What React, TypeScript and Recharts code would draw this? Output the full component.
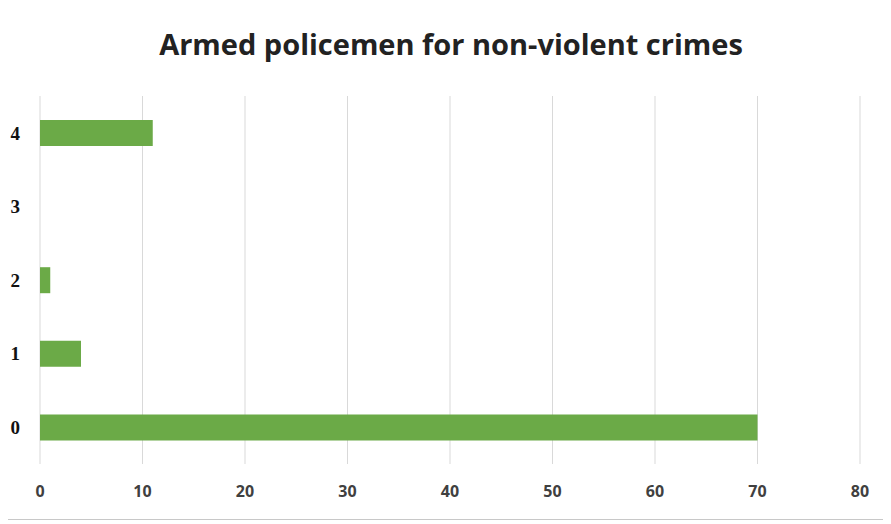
import { Bar, BarChart, CartesianGrid, XAxis, YAxis } from "recharts";

const categories = ["0", "1", "2", "3", "4"];
const counts = [70, 4, 1, 0, 11];
const xTicks = [0, 10, 20, 30, 40, 50, 60, 70, 80];

const data = categories.map((name, i) => ({ name, count: counts[i] }));

const App = () => {
  return (
    <div
      style={{
        position: "relative",
        width: 877,
        height: 515,
        border: "1px solid #c8c8c8",
        marginTop: -5,
        marginLeft: -1,
        background: "#fff",
      }}
    >
      <div
        style={{
          position: "absolute",
          top: 20,
          left: 0,
          width: 886,
          textAlign: "center",
          fontFamily: "'Open Sans', sans-serif",
          fontWeight: 700,
          fontSize: 29,
          color: "#222",
        }}
      >
        Armed policemen for non-violent crimes
      </div>
      <BarChart
        width={877}
        height={515}
        data={data}
        layout="vertical"
        margin={{ top: 92, right: 25, left: 0, bottom: 15 }}
      >
        <CartesianGrid horizontal={false} stroke="#d9d9d9" />
        <XAxis
          type="number"
          domain={[0, 80]}
          ticks={xTicks}
          axisLine={false}
          tickLine={false}
          tickSize={0}
          tickMargin={22}
          height={40}
          tick={{ fill: "#404040", fontSize: 16, fontFamily: "'Open Sans', sans-serif", fontWeight: 700 }}
        />
        <YAxis
          type="category"
          dataKey="name"
          reversed
          width={32}
          axisLine={false}
          tickLine={false}
          tickSize={0}
          tickMargin={20}
          tick={{ fill: "#111", fontSize: 19, fontFamily: "'Liberation Serif', serif", fontWeight: 700 }}
        />
        <Bar dataKey="count" fill="#6BAA47" barSize={26} isAnimationActive={false} />
      </BarChart>
    </div>
  );
};

export default App;
